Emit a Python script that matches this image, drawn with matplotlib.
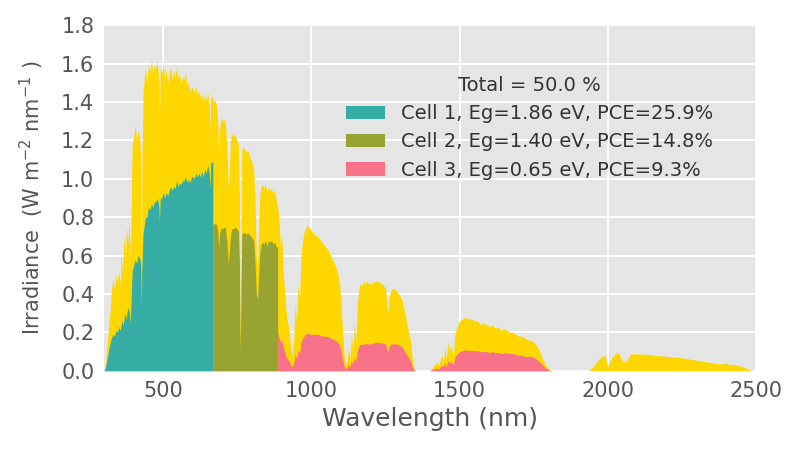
import matplotlib
matplotlib.use("Agg")
import matplotlib.pyplot as plt
import numpy as np

# ---------------- data ----------------
wl_total = [300, 305, 310, 315, 320, 325, 330, 335, 340, 345, 350, 355, 358, 362, 367, 372, 376, 380, 385, 389,
            392, 395, 400, 405, 410, 415, 420, 424, 426, 428, 432, 436, 440, 445, 450, 455, 460, 465, 470, 475,
            480, 485, 487, 490, 495, 500, 505, 510, 515, 520, 525, 530, 535, 540, 545, 550, 555, 560, 565, 570,
            575, 580, 585, 590, 595, 600, 605, 610, 615, 620, 625, 630, 635, 640, 645, 650, 655, 658, 660, 665,
            670, 675, 680, 684, 687, 690, 695, 700, 705, 710, 715, 719, 723, 727, 732, 737, 742, 748, 753, 757,
            759, 762, 765, 770, 775, 780, 785, 790, 795, 800, 805, 810, 814, 818, 822, 826, 830, 835, 840, 845,
            850, 855, 860, 865, 870, 875, 880, 885, 890, 895, 900, 905, 910, 915, 920, 925, 930, 935, 940, 945,
            950, 955, 960, 965, 970, 975, 980, 985, 990, 995, 1000, 1010, 1020, 1030, 1040, 1050, 1060, 1070,
            1080, 1090, 1095, 1100, 1105, 1110, 1115, 1120, 1125, 1130, 1135, 1140, 1145, 1150, 1155, 1160, 1165,
            1170, 1175, 1180, 1185, 1190, 1200, 1210, 1220, 1230, 1240, 1250, 1255, 1258, 1262, 1268, 1275, 1285,
            1295, 1305, 1315, 1325, 1335, 1340, 1345, 1350, 1400, 1410, 1420, 1430, 1440, 1445, 1450, 1455, 1460,
            1465, 1470, 1478, 1485, 1490, 1495, 1500, 1510, 1520, 1530, 1540, 1550, 1560, 1570, 1580, 1590, 1600,
            1610, 1620, 1630, 1640, 1650, 1660, 1670, 1680, 1690, 1700, 1710, 1720, 1730, 1740, 1750, 1760, 1770,
            1780, 1790, 1800, 1810, 1930, 1940, 1950, 1960, 1970, 1980, 1990, 1995, 2000, 2005, 2015, 2025, 2033,
            2040, 2050, 2060, 2067, 2075, 2085, 2100, 2120, 2140, 2160, 2180, 2200, 2220, 2240, 2260, 2280, 2300,
            2320, 2340, 2360, 2380, 2400, 2410, 2420, 2440, 2455, 2470, 2490, 2500]
irr_total = [0.0, 0.03, 0.12, 0.22, 0.30, 0.42, 0.48, 0.42, 0.50, 0.46, 0.52, 0.45, 0.62, 0.50, 0.70, 0.58, 0.75, 0.66, 0.78, 0.60,
             0.85, 1.18, 1.22, 1.28, 1.20, 1.25, 1.22, 1.10, 0.45, 1.05, 1.45, 1.52, 1.58, 1.50, 1.60, 1.55, 1.62, 1.55, 1.60, 1.57,
             1.62, 1.50, 1.30, 1.58, 1.55, 1.60, 1.52, 1.57, 1.50, 1.55, 1.58, 1.52, 1.56, 1.53, 1.58, 1.52, 1.55, 1.50, 1.53, 1.52,
             1.55, 1.48, 1.50, 1.45, 1.48, 1.47, 1.45, 1.48, 1.44, 1.46, 1.42, 1.45, 1.40, 1.44, 1.41, 1.45, 1.38, 1.25, 1.42, 1.43,
             1.40, 1.41, 1.38, 1.30, 1.12, 1.25, 1.32, 1.30, 1.31, 1.28, 1.15, 0.95, 1.05, 1.20, 1.24, 1.22, 1.23, 1.20, 1.18, 0.90,
             0.15, 0.50, 1.15, 1.17, 1.15, 1.14, 1.15, 1.12, 1.10, 1.08, 1.05, 0.85, 0.60, 0.55, 0.75, 0.92, 0.96, 0.97, 0.95, 0.97,
             0.93, 0.96, 0.94, 0.95, 0.92, 0.94, 0.90, 0.86, 0.80, 0.65, 0.70, 0.50, 0.40, 0.30, 0.25, 0.20, 0.12, 0.08, 0.15, 0.35,
             0.25, 0.45, 0.38, 0.60, 0.68, 0.72, 0.74, 0.76, 0.75, 0.74, 0.73, 0.71, 0.70, 0.68, 0.66, 0.64, 0.62, 0.58,
             0.55, 0.50, 0.45, 0.35, 0.20, 0.08, 0.03, 0.05, 0.12, 0.06, 0.18, 0.10, 0.25, 0.15, 0.35, 0.42, 0.46,
             0.44, 0.47, 0.45, 0.47, 0.46, 0.45, 0.46, 0.47, 0.46, 0.45, 0.43, 0.35, 0.30, 0.38, 0.42, 0.43, 0.42,
             0.40, 0.37, 0.30, 0.22, 0.15, 0.06, 0.02, 0.0, 0.0, 0.02, 0.04, 0.03, 0.08, 0.05, 0.12, 0.06, 0.15,
             0.10, 0.13, 0.08, 0.20, 0.22, 0.24, 0.26, 0.27, 0.28, 0.27, 0.27, 0.26, 0.26, 0.24, 0.25, 0.24, 0.23,
             0.24, 0.22, 0.23, 0.21, 0.22, 0.21, 0.20, 0.20, 0.19, 0.18, 0.18, 0.17, 0.16, 0.16, 0.15, 0.13, 0.10,
             0.06, 0.03, 0.01, 0.0, 0.0, 0.005, 0.02, 0.04, 0.06, 0.075, 0.083, 0.05, 0.02, 0.04, 0.07, 0.09, 0.095,
             0.08, 0.05, 0.045, 0.06, 0.085, 0.088, 0.088, 0.087, 0.083, 0.08, 0.078, 0.075, 0.072, 0.07, 0.065, 0.06, 0.055,
             0.05, 0.045, 0.04, 0.035, 0.04, 0.03, 0.035, 0.028, 0.02, 0.01, 0.0, 0.0]

wl_cell1 = [300, 305, 310, 315, 320, 325, 330, 335, 340, 345, 350, 355, 360, 365, 370, 375, 380, 385, 389, 392,
            395, 400, 405, 410, 415, 420, 424, 426, 428, 432, 436, 440, 445, 450, 455, 460, 465, 470, 475, 480,
            485, 487, 490, 495, 500, 505, 510, 515, 520, 525, 530, 535, 540, 545, 550, 555, 560, 565, 570, 575,
            580, 585, 590, 595, 600, 605, 610, 615, 620, 625, 630, 635, 640, 645, 650, 655, 658, 660, 665, 667]
irr_cell1 = [0.0, 0.02, 0.06, 0.10, 0.14, 0.17, 0.19, 0.18, 0.21, 0.20, 0.23, 0.21, 0.26, 0.24, 0.30, 0.27, 0.33, 0.31, 0.25, 0.40,
             0.52, 0.55, 0.58, 0.56, 0.60, 0.59, 0.55, 0.35, 0.55, 0.72, 0.76, 0.80, 0.80, 0.85, 0.84, 0.87, 0.85, 0.88, 0.88, 0.90,
             0.86, 0.78, 0.90, 0.90, 0.93, 0.90, 0.93, 0.91, 0.94, 0.96, 0.94, 0.96, 0.95, 0.99, 0.96, 0.98, 0.97, 0.99, 0.99, 1.01,
             0.98, 1.00, 0.98, 1.01, 1.01, 1.00, 1.03, 1.01, 1.03, 1.01, 1.04, 1.01, 1.05, 1.03, 1.07, 1.03, 0.95, 1.08, 1.09, 1.09]

wl_cell2 = [667, 670, 675, 680, 684, 687, 690, 695, 700, 705, 710, 715, 719, 723, 727, 732, 737, 742, 748, 753,
            757, 759, 762, 765, 770, 775, 780, 785, 790, 795, 800, 805, 810, 814, 818, 822, 826, 830, 835, 840,
            845, 850, 855, 860, 865, 870, 875, 880, 886]
irr_cell2 = [0.77, 0.76, 0.77, 0.76, 0.73, 0.64, 0.71, 0.75, 0.74, 0.75, 0.74, 0.67, 0.56, 0.62, 0.71, 0.74, 0.74, 0.75, 0.74, 0.73,
             0.56, 0.10, 0.32, 0.71, 0.72, 0.72, 0.71, 0.72, 0.71, 0.70, 0.69, 0.68, 0.55, 0.40, 0.37, 0.50, 0.62, 0.66, 0.67, 0.66,
             0.68, 0.65, 0.68, 0.67, 0.68, 0.66, 0.67, 0.65, 0.64]

wl_cell3 = [886, 890, 895, 900, 905, 910, 915, 920, 925, 930, 935, 940, 945, 950, 955, 960, 965, 970, 975, 980,
            985, 990, 995, 1000, 1010, 1020, 1030, 1040, 1050, 1060, 1070, 1080, 1090, 1095, 1100, 1105, 1110, 1115,
            1120, 1125, 1130, 1135, 1140, 1145, 1150, 1155, 1160, 1165, 1170, 1175, 1180, 1185, 1190, 1200, 1210,
            1220, 1230, 1240, 1250, 1255, 1258, 1262, 1268, 1275, 1285, 1295, 1305, 1315, 1325, 1335, 1340, 1345,
            1350, 1400, 1410, 1420, 1430, 1440, 1445, 1450, 1455, 1460, 1465, 1470, 1478, 1485, 1490, 1495, 1500,
            1510, 1520, 1530, 1540, 1550, 1560, 1570, 1580, 1590, 1600, 1610, 1620, 1630, 1640, 1650, 1660, 1670,
            1680, 1690, 1700, 1710, 1720, 1730, 1740, 1750, 1760, 1770, 1780, 1790, 1800, 1810, 1908]
irr_cell3 = [0.20, 0.18, 0.15, 0.16, 0.12, 0.10, 0.07, 0.06, 0.05, 0.03, 0.02, 0.04, 0.09, 0.06, 0.11, 0.09, 0.15, 0.17, 0.18, 0.19,
             0.195, 0.195, 0.19, 0.19, 0.19, 0.19, 0.185, 0.18, 0.18, 0.175, 0.165, 0.16, 0.145, 0.13, 0.10, 0.06, 0.025, 0.01,
             0.015, 0.035, 0.02, 0.055, 0.03, 0.075, 0.045, 0.105, 0.125, 0.14, 0.135, 0.14, 0.14, 0.145, 0.14, 0.14, 0.145,
             0.15, 0.145, 0.145, 0.14, 0.115, 0.10, 0.125, 0.14, 0.14, 0.14, 0.135, 0.125, 0.10, 0.075, 0.05, 0.02, 0.007,
             0.0, 0.0, 0.007, 0.014, 0.01, 0.03, 0.02, 0.045, 0.02, 0.055, 0.04, 0.05, 0.03, 0.075, 0.085, 0.09, 0.10,
             0.105, 0.11, 0.105, 0.105, 0.105, 0.105, 0.10, 0.10, 0.10, 0.095, 0.10, 0.095, 0.095, 0.09, 0.095, 0.09, 0.09,
             0.09, 0.085, 0.08, 0.08, 0.075, 0.075, 0.075, 0.07, 0.06, 0.045, 0.03, 0.015, 0.005, 0.0, 0.0]

cell_labels = ["Cell 1, Eg=1.86 eV, PCE=25.9%",
               "Cell 2, Eg=1.40 eV, PCE=14.8%",
               "Cell 3, Eg=0.65 eV, PCE=9.3%"]
legend_title = "Total = 50.0 %"
x_ticks = [500, 1000, 1500, 2000, 2500]
y_ticks = [0.0, 0.2, 0.4, 0.6, 0.8, 1.0, 1.2, 1.4, 1.6, 1.8]

# ---------------- styling ----------------
plt.rcParams['font.family'] = ['DejaVu Sans']
total_color = "#FFD700"
cell_colors = ["#36ada4", "#97a431", "#f77189"]

fig = plt.figure(figsize=(8, 4.5), dpi=100)
ax = fig.add_axes([0.13, 0.176, 0.815, 0.768])
ax.set_facecolor("#E5E5E5")
for s in ax.spines.values():
    s.set_visible(False)
ax.set_axisbelow(True)
ax.grid(True, color="white", linewidth=1.3)

ax.fill_between(wl_total, 0, irr_total, color=total_color, linewidth=0)
cells = [(wl_cell1, irr_cell1), (wl_cell2, irr_cell2), (wl_cell3, irr_cell3)]
for (w, v), c, lab in zip(cells, cell_colors, cell_labels):
    ax.fill_between(w, 0, v, color=c, linewidth=0, label=lab)

ax.set_xlim(300, 2500)
ax.set_ylim(0, 1.8)
ax.set_xticks(x_ticks)
ax.set_yticks(y_ticks)
ax.set_yticklabels([f"{t:.1f}" for t in y_ticks])
ax.tick_params(axis='both', length=0, labelsize=15, labelcolor="#555555", pad=7)
ax.set_xlabel("Wavelength (nm)", fontsize=18, color="#555555", labelpad=5)
ax.set_ylabel("Irradiance  (W m$^{-2}$ nm$^{-1}$ )", fontsize=15, color="#555555", labelpad=11)

leg = ax.legend(title=legend_title, loc="upper left", bbox_to_anchor=(0.36, 0.875),
                frameon=False, fontsize=14, title_fontsize=14, handlelength=2.0,
                handleheight=0.7, labelspacing=0.47, handletextpad=0.8, borderaxespad=0)
for t in leg.get_texts():
    t.set_color("#333333")
leg.get_title().set_color("#333333")

fig.savefig("out.png", dpi=100)
